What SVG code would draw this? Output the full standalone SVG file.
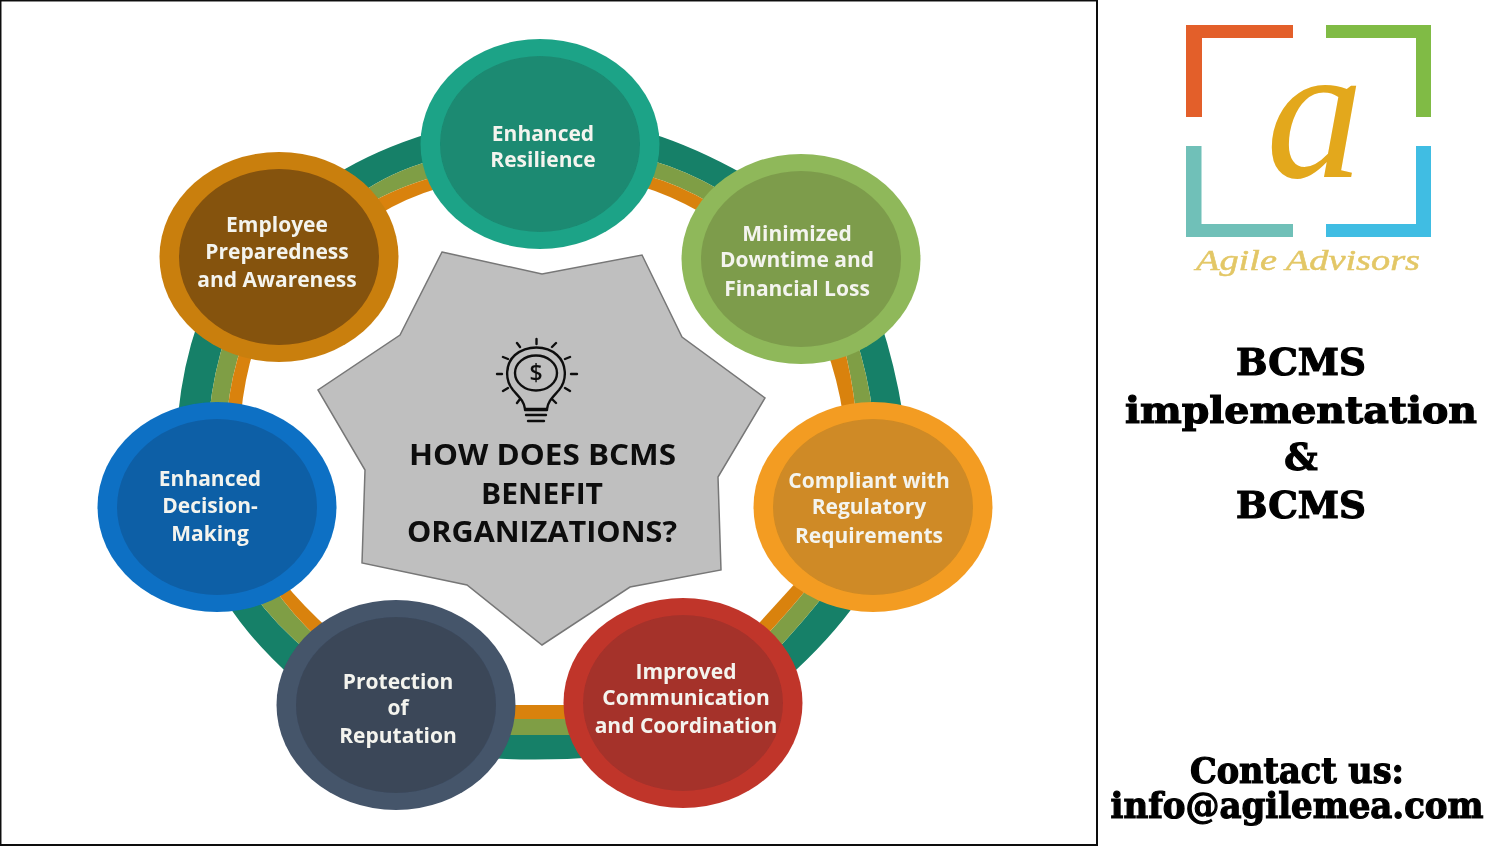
<svg xmlns="http://www.w3.org/2000/svg" width="1504" height="846" viewBox="0 0 1504 846">
<defs><filter id="soft" filterUnits="userSpaceOnUse" x="0" y="0" width="1504" height="846"><feGaussianBlur stdDeviation="0.55"/></filter></defs>
<style>
.t{fill:#148067}.o{fill:#7f9e45}.r{fill:#d9820f}
.n{font-family:"Open Sans","Liberation Sans",sans-serif;font-weight:700;font-size:21px;fill:#f4f4ee;text-anchor:middle}
.c{font-family:"Open Sans","Liberation Sans",sans-serif;font-weight:700;font-size:28.5px;fill:#0d0d0d;text-anchor:middle}
.s{font-family:"DejaVu Serif",serif;font-weight:700;fill:#000;text-anchor:middle;stroke:#000;stroke-width:1.2px}
.i{fill:none;stroke:#111;stroke-width:2.4;stroke-linecap:round}
</style>
<rect width="1504" height="846" fill="#fff"/>
<g filter="url(#soft)">
<rect x="0.5" y="0.5" width="1096.5" height="844.5" fill="none" stroke="#111" stroke-width="2"/>
<g id="connectors">
<path class="t" d="M650 133Q695 147 745 175L720 190Q685 170 650 160Z"/>
<path class="o" d="M650 160Q685 170 720 190L710 203Q680 185 645 175Z"/>
<path class="r" d="M645 175Q680 185 710 203L700 212Q670 195 640 186Z"/>
<path class="t" d="M880 320Q895 365 903 415L873 415Q868 375 855 335Z"/>
<path class="o" d="M855 335Q868 375 873 415L856 415Q852 375 842 340Z"/>
<path class="r" d="M842 340Q852 375 856 415L843 415Q838 380 825 345Z"/>
<path class="t" d="M858 600Q830 640 785 680L772 655Q805 620 828 590Z"/>
<path class="o" d="M828 590Q805 620 772 655L762 640Q790 610 810 585Z"/>
<path class="r" d="M810 585Q790 610 762 640L750 633Q780 600 800 578Z"/>
<path class="t" d="M470 757Q535 762 600 757L600 735L470 735Z"/>
<path class="o" d="M470 735H600V719H470Z"/>
<path class="r" d="M470 719H600V705H470Z"/>
<path class="t" d="M225 600Q250 640 295 680L312 655Q275 625 252 592Z"/>
<path class="o" d="M252 592Q275 625 312 655L322 642Q292 615 272 585Z"/>
<path class="r" d="M272 585Q292 615 322 642L332 632Q302 605 282 580Z"/>
<path class="t" d="M198 322Q183 365 178 415L209 415Q214 370 226 335Z"/>
<path class="o" d="M226 335Q214 370 209 415L227 415Q231 375 243 342Z"/>
<path class="r" d="M243 342Q231 375 227 415L241 415Q244 380 255 345Z"/>
<path class="t" d="M335 175Q375 150 430 133L433 160Q390 172 358 195Z"/>
<path class="o" d="M358 195Q390 172 433 160L437 176Q395 188 367 205Z"/>
<path class="r" d="M367 205Q395 188 437 176L442 187Q405 198 378 215Z"/>
</g>
<g id="center">
<polygon points="442,252 542,274 642,255 682,337 765,398 718,477 721,570 630,587 542,645 467,585 362,563 365,470 318,390 400,335" fill="#bfbfbf" stroke="#777" stroke-width="1.5"/>
<g id="bulb">
<path class="i" d="M525 409C524 401 519 397 513 390C504 379 506 363 515 355C527 345 546 345 557 355C566 363 568 379 559 390C553 397 548 401 547 409Z"/>
<ellipse class="i" cx="536" cy="373" rx="21" ry="17.500"/>
<text x="536" y="381" font-family="Open Sans,Liberation Sans,sans-serif" font-size="23" font-weight="600" text-anchor="middle" fill="#111">$</text>
<path class="i" d="M525 410H547M526 415H546M528 421H544M536.500 339V344M517 343L520 347M556 343L552 347M503 357L508 359M570 357L565 359M497 374H502M571 374H577M503 391L508 388M570 391L565 388M517 403L520 399M556 403L552 399"/>
</g>
<text class="c" x="542.500" y="465" textLength="267" lengthAdjust="spacingAndGlyphs">HOW DOES BCMS</text>
<text class="c" x="542" y="504" textLength="122" lengthAdjust="spacingAndGlyphs">BENEFIT</text>
<text class="c" x="542" y="542" textLength="270" lengthAdjust="spacingAndGlyphs">ORGANIZATIONS?</text>
</g>
<g id="n1"><ellipse cx="540" cy="144" rx="119.500" ry="105" fill="#1fa387"/><ellipse cx="540" cy="144" rx="100" ry="88" fill="#1a8a72"/>
<text class="n" x="543" y="141">Enhanced</text><text class="n" x="543" y="167">Resilience</text></g>
<g id="n2"><ellipse cx="801" cy="259" rx="119.500" ry="105" fill="#8fb85a"/><ellipse cx="801" cy="259" rx="100" ry="88" fill="#7d9c4c"/>
<text class="n" x="797" y="241">Minimized</text><text class="n" x="797" y="267">Downtime and</text><text class="n" x="797" y="296">Financial Loss</text></g>
<g id="n3"><ellipse cx="873" cy="507" rx="119.500" ry="105" fill="#f39c24"/><ellipse cx="873" cy="507" rx="100" ry="88" fill="#cf8a25"/>
<text class="n" x="869" y="488">Compliant with</text><text class="n" x="869" y="514">Regulatory</text><text class="n" x="869" y="543">Requirements</text></g>
<g id="n4"><ellipse cx="683" cy="703" rx="119.500" ry="105" fill="#c0362c"/><ellipse cx="683" cy="703" rx="100" ry="88" fill="#a5302a"/>
<text class="n" x="686" y="679">Improved</text><text class="n" x="686" y="705">Communication</text><text class="n" x="686" y="733">and Coordination</text></g>
<g id="n5"><ellipse cx="396" cy="705" rx="119.500" ry="105" fill="#44546a"/><ellipse cx="396" cy="705" rx="100" ry="88" fill="#3a4759"/>
<text class="n" x="398" y="689">Protection</text><text class="n" x="398" y="715">of</text><text class="n" x="398" y="743">Reputation</text></g>
<g id="n6"><ellipse cx="217" cy="507" rx="119.500" ry="105" fill="#0a70c4"/><ellipse cx="217" cy="507" rx="100" ry="88" fill="#0b5fa6"/>
<text class="n" x="210" y="486">Enhanced</text><text class="n" x="210" y="513">Decision-</text><text class="n" x="210" y="541">Making</text></g>
<g id="n7"><ellipse cx="279" cy="257" rx="119.500" ry="105" fill="#c97f10"/><ellipse cx="279" cy="257" rx="100" ry="88" fill="#85520c"/>
<text class="n" x="277" y="232">Employee</text><text class="n" x="277" y="259">Preparedness</text><text class="n" x="277" y="287">and Awareness</text></g>
<g id="logo">
<path fill="#e35f2a" d="M1186 25H1293V38H1202V117H1186Z"/>
<path fill="#80bb45" d="M1326 25H1431V117H1416V38H1326Z"/>
<path fill="#6fc0b8" d="M1186 146H1201.500V224H1293V237H1186Z"/>
<path fill="#3fbde3" d="M1416 146H1431V237H1326V224H1416Z"/>
<text x="1266" y="177" font-family="Liberation Serif,serif" font-style="italic" font-size="195" fill="#e3a81c">a</text>
<text x="1196" y="270" font-family="Liberation Serif,serif" font-style="italic" font-size="30" fill="#e3c766" stroke="#e3c766" stroke-width=".5" textLength="224" lengthAdjust="spacingAndGlyphs">Agile Advisors</text>
</g>
<g id="title">
<text class="s" x="1301" y="375" font-size="37" textLength="130" lengthAdjust="spacingAndGlyphs">BCMS</text>
<text class="s" x="1301" y="423" font-size="37" textLength="352" lengthAdjust="spacingAndGlyphs">implementation</text>
<text class="s" x="1301" y="470" font-size="37">&amp;</text>
<text class="s" x="1301" y="518" font-size="37" textLength="130" lengthAdjust="spacingAndGlyphs">BCMS</text>
<text class="s" x="1297" y="783" font-size="35" textLength="214" lengthAdjust="spacingAndGlyphs">Contact us:</text>
<text class="s" x="1297" y="818" font-size="35" textLength="373" lengthAdjust="spacingAndGlyphs">info@agilemea.com</text>
</g>
</g>
</svg>
